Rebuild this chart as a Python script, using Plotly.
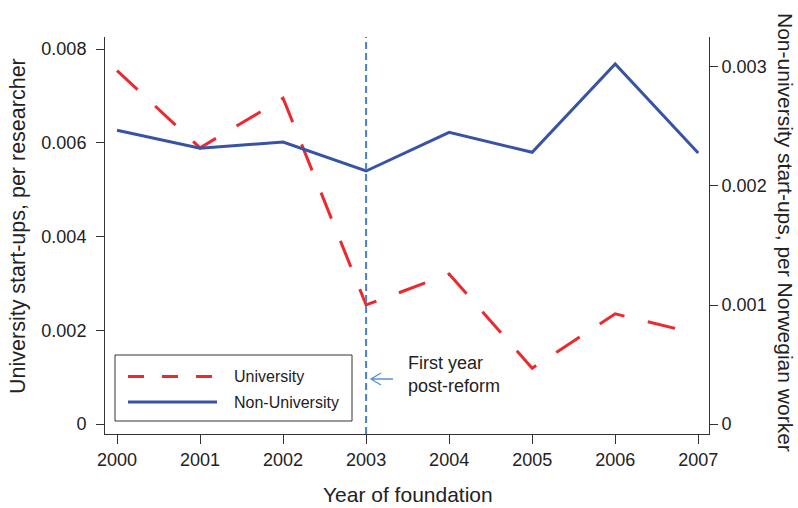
import plotly.graph_objects as go

# Start-up rates by year of foundation
years = [2000, 2001, 2002, 2003, 2004, 2005, 2006, 2007]
university = [0.00754, 0.00589, 0.00695, 0.00254, 0.00320, 0.00119, 0.00235, 0.00192]
non_university = [0.002468, 0.002317, 0.00237, 0.002126, 0.002451, 0.002283, 0.003025, 0.002277]

left_ticks = [0, 0.002, 0.004, 0.006, 0.008]
left_labels = ["0", "0.002", "0.004", "0.006", "0.008"]
right_ticks = [0, 0.001, 0.002, 0.003]
right_labels = ["0", "0.001", "0.002", "0.003"]

reform_year = 2003

RED = "#ec2a2e"
BLUE = "#3853a4"
REF_BLUE = "#4a80c2"
ARROW_BLUE = "#5a8fd2"
AXIS = "#333333"
TEXT = "#222222"
FONT = "Liberation Sans, Arial, Helvetica, sans-serif"

W, H = 798, 508
L, R, T, B = 105, 89, 37, 74
PW, PH = W - L - R, H - T - B


def px(x):
    return (x - L) / PW


def py(y):
    return (H - B - y) / PH


fig = go.Figure()

fig.add_trace(go.Scatter(
    x=years, y=non_university, yaxis="y2", mode="lines",
    name="Non-University", line=dict(color=BLUE, width=3),
    hoverinfo="skip",
))
fig.add_trace(go.Scatter(
    x=years, y=university, yaxis="y", mode="lines",
    name="University", line=dict(color=RED, width=3, dash="28px,24px"),
    hoverinfo="skip",
))

shapes = []
# reform year marker
shapes.append(dict(type="line", xref="x", yref="paper", x0=reform_year, x1=reform_year,
                   y0=0, y1=1, line=dict(color=REF_BLUE, width=2, dash="7px,4px")))

# open arrow pointing at the reform line
arrow = (f"M{px(393)},{py(379)} L{px(371)},{py(379)} "
         f"M{px(381)},{py(373)} L{px(371)},{py(379)} L{px(381)},{py(385)}")
shapes.append(dict(type="path", xref="paper", yref="paper", path=arrow,
                   line=dict(color=ARROW_BLUE, width=1.3)))

# legend box
shapes.append(dict(type="rect", xref="paper", yref="paper",
                   x0=px(115), x1=px(352), y0=py(421), y1=py(355),
                   line=dict(color=AXIS, width=1), fillcolor="white", layer="above"))
shapes.append(dict(type="line", xref="paper", yref="paper",
                   x0=px(128), x1=px(217), y0=py(376.5), y1=py(376.5),
                   line=dict(color=RED, width=3, dash="16px,18px"), layer="above"))
shapes.append(dict(type="line", xref="paper", yref="paper",
                   x0=px(128), x1=px(217), y0=py(402), y1=py(402),
                   line=dict(color=BLUE, width=3), layer="above"))

annotations = [
    dict(text="University", x=px(232), y=py(376.5), xanchor="left", yanchor="middle",
         font=dict(size=16, color=TEXT)),
    dict(text="Non-University", x=px(232), y=py(402), xanchor="left", yanchor="middle",
         font=dict(size=16, color=TEXT)),
    dict(text="First year<br>post-reform", x=px(406), y=py(374), xanchor="left",
         yanchor="middle", align="left", font=dict(size=18, color=TEXT)),
    dict(text="Year of foundation", x=px(408), y=py(495), xanchor="center",
         yanchor="middle", font=dict(size=21, color=TEXT)),
    dict(text="University start-ups, per researcher", x=px(18), y=py(226),
         xanchor="center", yanchor="middle", textangle=-90,
         font=dict(size=21.5, color=TEXT)),
    dict(text="Non-university start-ups, per Norwegian worker", x=px(785), y=py(232),
         xanchor="center", yanchor="middle", textangle=90,
         font=dict(size=21, color=TEXT)),
]
for a in annotations:
    a.update(xref="paper", yref="paper", showarrow=False)

common_axis = dict(
    showgrid=False, zeroline=False, showline=True, linecolor=AXIS, linewidth=1,
    ticks="outside", tickcolor=AXIS, tickwidth=1,
    tickfont=dict(size=18, color=TEXT, family=FONT),
)

fig.update_layout(
    width=W, height=H,
    margin=dict(l=L, r=R, t=T, b=B, pad=0),
    paper_bgcolor="white", plot_bgcolor="white",
    font=dict(family=FONT, color=TEXT),
    showlegend=False,
    hovermode=False,
    xaxis=dict(range=[1999.855, 2007.13], tickvals=years, ticklen=9, **common_axis),
    yaxis=dict(range=[-0.000213, 0.008256], tickvals=left_ticks, ticktext=left_labels,
               ticklen=8, ticklabelstandoff=6, **common_axis),
    yaxis2=dict(range=[-0.000084, 0.003252], tickvals=right_ticks, ticktext=right_labels,
                overlaying="y", side="right", ticklen=8, **common_axis),
    shapes=shapes,
    annotations=annotations,
)

fig.write_html("out.html")
